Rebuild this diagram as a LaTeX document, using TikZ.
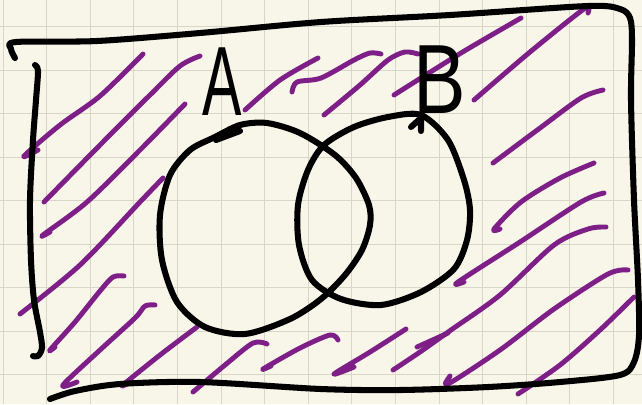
\documentclass[tikz,border=0pt]{standalone}
\usepackage{fontspec}
\setmainfont{Liberation Sans}
\usepackage{graphicx}
\usepackage{tikz}
\definecolor{corFundo}{RGB}{248,245,233}
\definecolor{corGrade}{RGB}{217,214,199}
\definecolor{corRoxo}{RGB}{125,31,135}

\begin{document}
\begin{tikzpicture}[x=0.025cm, y=-0.025cm, every node/.style={font=\fontsize{70}{70}\selectfont}]
    \tikzstyle{traco}=[draw=black, line width=4.3pt, line cap=round, line join=round]
    \tikzstyle{hachura}=[draw=corRoxo, line width=3.5pt, line cap=round, line join=round]
    \tikzstyle{rotulo}=[inner sep=0pt, text=black]
    \useasboundingbox (0,0) rectangle (642,404);
    \fill[corFundo] (0,0) rectangle (642,404);
    % grade do caderno
    \foreach \gx in {0,...,14} \draw[corGrade, line width=0.7pt] (3.1+43.6*\gx,0) -- (3.1+43.6*\gx,404);
    \foreach \gy in {0,...,8} \draw[corGrade, line width=0.7pt] (0,26.7+43.5*\gy) -- (642,26.7+43.5*\gy);
    % hachuras (complemento de A uniao B)
    \draw[hachura] plot[smooth] coordinates {(38,150) (24,156) (60,125) (100,96) (143,54)};
    \draw[hachura] plot[smooth] coordinates {(44,202) (100,145) (150,95) (180,66) (200,56)};
    \draw[hachura] plot[smooth] coordinates {(50,232) (43,235) (87,202) (140,150) (185,104)};
    \draw[hachura] plot[smooth] coordinates {(20,314) (80,265) (140,202) (163,178)};
    \draw[hachura] plot[smooth] coordinates {(55,347) (50,350) (75,322) (100,291) (113,277) (124,276)};
    \draw[hachura] plot[smooth] coordinates {(77,382) (63,385) (100,350) (135,318) (145,306) (155,305)};
    \draw[hachura] plot[smooth] coordinates {(130,382) (123,385) (160,355) (197,327)};
    \draw[hachura] plot[smooth] coordinates {(193,392) (225,365) (253,343) (267,344)};
    \draw[hachura] plot[smooth] coordinates {(271,366) (263,369) (300,348) (330,335) (338,340)};
    \draw[hachura] plot[smooth] coordinates {(354,367) (334,374) (370,352) (406,329)};
    \draw[hachura] plot[smooth] coordinates {(393,370) (420,352) (451,330) (500,295) (554,245) (588,229) (606,227)};
    \draw[hachura] (417,347) -- (448,333);
    \draw[hachura] plot[smooth] coordinates {(450,376) (448,384) (500,350) (554,309) (608,274) (628,270)};
    \draw[hachura] plot[smooth] coordinates {(518,394) (560,365) (600,330) (634,297)};
    \draw[hachura] plot[smooth] coordinates {(464,282) (458,282) (520,242) (581,202) (604,193)};
    \draw[hachura] plot[smooth] coordinates {(500,229) (494,229) (521,202) (560,178) (594,163)};
    \draw[hachura] plot[smooth] coordinates {(493,163) (540,128) (581,98) (603,90)};
    \draw[hachura] plot[smooth] coordinates {(474,100) (530,52) (584,9) (588,13)};
    \draw[hachura] plot[smooth] coordinates {(394,95) (461,53) (521,18)};
    \draw[hachura] plot[smooth] coordinates {(324,115) (360,85) (388,60) (405,52) (418,54)};
    \draw[hachura] plot[smooth] coordinates {(292,92) (297,82) (321,78) (354,60) (370,53) (381,54)};
    \draw[hachura] plot[smooth] coordinates {(245,110) (280,80) (318,58)};
    % moldura (universo)
    \draw[traco] plot[smooth] coordinates {(15,58) (11,49) (16,42) (97,41) (200,33) (321,22) (450,15) (588,6) (620,9) (630,18) (632,40) (631,100) (634,200) (638,280) (639,335) (634,362) (620,375) (560,382) (488,387) (400,390) (321,389) (200,382) (120,384) (75,391) (50,399)};
    \draw[traco] plot[smooth] coordinates {(35,65) (38,71) (36,100) (33,140) (30,200) (31,260) (34,300) (40,332) (42,348) (38,356) (33,356)};
    % conjuntos
    \draw[traco] plot[smooth cycle] coordinates {(240,125) (267,123) (300,133) (335,155) (356,178) (369,205) (370,225) (362,250) (345,275) (321,299) (290,319) (245,334) (205,327) (177,302) (162,260) (160,215) (170,175) (190,150) (215,137)};
    \draw[traco] (216,140) -- (240,131);
    \draw[traco] plot[smooth cycle] coordinates {(388,117) (421,115) (448,140) (464,180) (470,210) (467,240) (454,269) (421,292) (381,305) (341,299) (312,280) (299,245) (298,205) (308,170) (324,145) (354,127)};
    \draw[traco] (411,127) -- (421,118) -- (421,131);
    \node[rotulo] (rotA) at (222,82) {\scalebox{0.6}[1]{A}};
    \node[rotulo] (rotB) at (440,80) {\scalebox{0.8}[1]{B}};
\end{tikzpicture}
\end{document}
